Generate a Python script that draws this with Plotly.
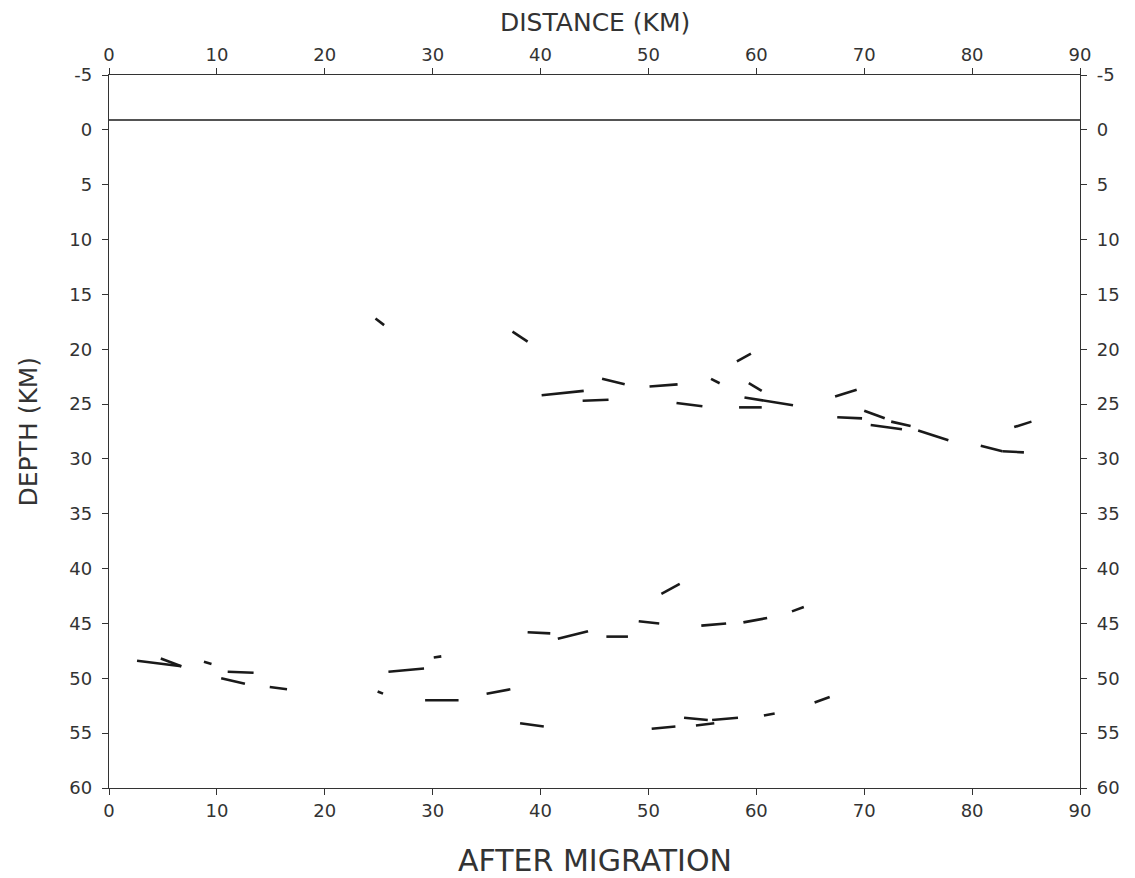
import plotly.graph_objects as go

# Reflector segments (distance km, depth km): start/end
seg_x0 = [24.7, 37.4, 40.1, 43.9, 45.7, 50.1, 52.6, 55.8, 58.2, 59.3, 58.9, 58.4,
          67.3, 67.5, 70.0, 70.6, 72.5, 75.0, 80.8, 82.8, 83.9,
          2.6, 4.8, 8.8, 11.0, 10.4, 14.9, 25.9, 30.1, 24.9, 29.3, 35.0,
          51.2, 38.8, 41.6, 46.1, 49.1, 54.9, 58.8, 63.3,
          38.1, 50.3, 53.3, 54.4, 55.9, 60.7, 65.4]
seg_x1 = [25.5, 38.8, 44.0, 46.3, 47.8, 52.7, 55.0, 56.6, 59.5, 60.5, 63.4, 60.5,
          69.3, 69.8, 71.9, 73.5, 74.3, 77.8, 82.8, 84.8, 85.5,
          6.7, 6.7, 9.5, 13.4, 12.6, 16.5, 29.2, 30.8, 25.4, 32.4, 37.2,
          52.9, 40.9, 44.4, 48.1, 51.0, 57.2, 61.0, 64.4,
          40.3, 52.5, 55.5, 56.1, 58.3, 61.7, 66.8]
seg_y0 = [17.2, 18.4, 24.2, 24.7, 22.7, 23.4, 24.9, 22.7, 21.1, 23.1, 24.4, 25.3,
          24.3, 26.2, 25.6, 26.9, 26.6, 27.4, 28.8, 29.3, 27.1,
          48.4, 48.2, 48.5, 49.4, 50.0, 50.8, 49.4, 48.1, 51.2, 52.0, 51.4,
          42.3, 45.8, 46.4, 46.2, 44.8, 45.2, 44.9, 43.9,
          54.1, 54.6, 53.6, 54.3, 53.8, 53.4, 52.2]
seg_y1 = [17.8, 19.3, 23.8, 24.6, 23.2, 23.2, 25.2, 23.1, 20.4, 23.8, 25.1, 25.3,
          23.7, 26.3, 26.3, 27.3, 27.0, 28.3, 29.3, 29.4, 26.6,
          48.9, 48.9, 48.7, 49.5, 50.5, 51.0, 49.1, 48.0, 51.4, 52.0, 51.0,
          41.4, 45.9, 45.7, 46.2, 45.0, 45.0, 44.5, 43.5,
          54.4, 54.4, 53.8, 54.1, 53.6, 53.2, 51.7]

surface_x = [0, 90]
surface_y = [-0.9, -0.9]

x_ticks = [0, 10, 20, 30, 40, 50, 60, 70, 80, 90]
y_ticks = [-5, 0, 5, 10, 15, 20, 25, 30, 35, 40, 45, 50, 55, 60]
y_tick_text = ["-5", "0", "5", "10", "15", "20", "25", "30", "35", "40", "45", "50", "55", "60"]

xs, ys = [], []
for a, b, c, d in zip(seg_x0, seg_x1, seg_y0, seg_y1):
    xs += [a, b, None]
    ys += [c, d, None]

ink = "#1a1a1a"
txt = "#333333"
tick_font = dict(family="DejaVu Sans", size=18, color=txt)

fig = go.Figure()
fig.add_trace(go.Scatter(x=surface_x, y=surface_y, mode="lines",
                         line=dict(color=ink, width=1.6), hoverinfo="skip",
                         showlegend=False))
fig.add_trace(go.Scatter(x=xs, y=ys, mode="lines",
                         line=dict(color=ink, width=2.6), showlegend=False))
# invisible trace to activate secondary axes
fig.add_trace(go.Scatter(x=[0], y=[0], xaxis="x2", yaxis="y2", mode="markers",
                         marker=dict(opacity=0), showlegend=False, hoverinfo="skip"))

axis_common = dict(showgrid=False, zeroline=False, showline=True, linecolor=txt,
                   linewidth=1.3, ticks="outside", ticklen=6, tickwidth=1.2,
                   tickcolor=txt, tickfont=tick_font)

fig.update_layout(
    width=1127, height=870,
    margin=dict(l=101, r=55, t=67, b=90),
    paper_bgcolor="white", plot_bgcolor="white",
    xaxis=dict(range=[0, 90], tickvals=x_ticks, side="bottom", **axis_common),
    xaxis2=dict(range=[0, 90], tickvals=x_ticks, side="top", overlaying="x",
                matches="x", **axis_common),
    yaxis=dict(range=[60, -5], tickvals=y_ticks, ticktext=y_tick_text,
               side="left", ticklabelstandoff=6, **axis_common),
    yaxis2=dict(range=[60, -5], tickvals=y_ticks, ticktext=y_tick_text,
                side="right", overlaying="y", matches="y", ticklabelstandoff=6,
                **axis_common),
    annotations=[
        dict(text="DISTANCE (KM)", x=0.5, y=1.0, xref="paper", yref="paper",
             yshift=53, xanchor="center", yanchor="middle", showarrow=False,
             font=dict(family="DejaVu Sans", size=25, color=txt)),
        dict(text="DEPTH (KM)", x=0, y=0.5, xref="paper", yref="paper",
             xshift=-81, textangle=-90, xanchor="center", yanchor="middle",
             showarrow=False,
             font=dict(family="DejaVu Sans", size=25, color=txt)),
        dict(text="AFTER MIGRATION", x=0.5, y=0, xref="paper", yref="paper",
             yshift=-72, xanchor="center", yanchor="middle", showarrow=False,
             font=dict(family="DejaVu Sans", size=30, color=txt)),
    ],
)

fig.write_html("out.html")
